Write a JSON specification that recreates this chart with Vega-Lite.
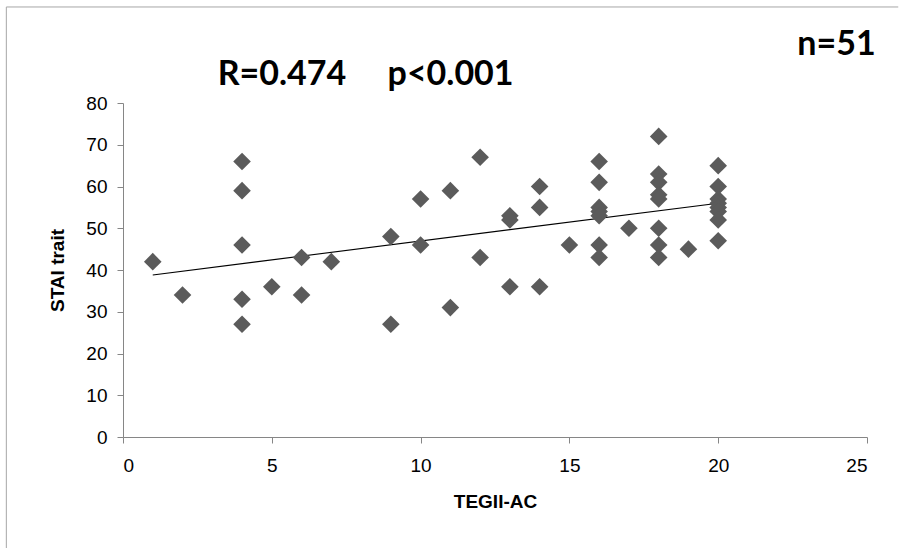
{
  "$schema": "https://vega.github.io/schema/vega-lite/v6.json",
  "width": 744,
  "height": 334,
  "autosize": {"type": "none"},
  "padding": {"left": 123, "top": 103, "right": 32, "bottom": 111},
  "background": "white",
  "config": {"view": {"stroke": null}, "font": "Liberation Sans"},
  "datasets": {
    "points": [
      {"TEGII_AC": 1, "STAI": 42},
      {"TEGII_AC": 2, "STAI": 34},
      {"TEGII_AC": 4, "STAI": 66},
      {"TEGII_AC": 4, "STAI": 59},
      {"TEGII_AC": 4, "STAI": 46},
      {"TEGII_AC": 4, "STAI": 33},
      {"TEGII_AC": 4, "STAI": 27},
      {"TEGII_AC": 5, "STAI": 36},
      {"TEGII_AC": 6, "STAI": 43},
      {"TEGII_AC": 6, "STAI": 34},
      {"TEGII_AC": 7, "STAI": 42},
      {"TEGII_AC": 9, "STAI": 48},
      {"TEGII_AC": 9, "STAI": 27},
      {"TEGII_AC": 10, "STAI": 57},
      {"TEGII_AC": 10, "STAI": 46},
      {"TEGII_AC": 11, "STAI": 59},
      {"TEGII_AC": 11, "STAI": 31},
      {"TEGII_AC": 12, "STAI": 67},
      {"TEGII_AC": 12, "STAI": 43},
      {"TEGII_AC": 13, "STAI": 53},
      {"TEGII_AC": 13, "STAI": 52},
      {"TEGII_AC": 13, "STAI": 36},
      {"TEGII_AC": 14, "STAI": 60},
      {"TEGII_AC": 14, "STAI": 55},
      {"TEGII_AC": 14, "STAI": 36},
      {"TEGII_AC": 15, "STAI": 46},
      {"TEGII_AC": 16, "STAI": 66},
      {"TEGII_AC": 16, "STAI": 61},
      {"TEGII_AC": 16, "STAI": 55},
      {"TEGII_AC": 16, "STAI": 54},
      {"TEGII_AC": 16, "STAI": 53},
      {"TEGII_AC": 16, "STAI": 46},
      {"TEGII_AC": 16, "STAI": 43},
      {"TEGII_AC": 17, "STAI": 50},
      {"TEGII_AC": 18, "STAI": 72},
      {"TEGII_AC": 18, "STAI": 63},
      {"TEGII_AC": 18, "STAI": 61},
      {"TEGII_AC": 18, "STAI": 58},
      {"TEGII_AC": 18, "STAI": 57},
      {"TEGII_AC": 18, "STAI": 50},
      {"TEGII_AC": 18, "STAI": 46},
      {"TEGII_AC": 18, "STAI": 43},
      {"TEGII_AC": 19, "STAI": 45},
      {"TEGII_AC": 20, "STAI": 65},
      {"TEGII_AC": 20, "STAI": 60},
      {"TEGII_AC": 20, "STAI": 57},
      {"TEGII_AC": 20, "STAI": 56},
      {"TEGII_AC": 20, "STAI": 55},
      {"TEGII_AC": 20, "STAI": 54},
      {"TEGII_AC": 20, "STAI": 52},
      {"TEGII_AC": 20, "STAI": 47}
    ],
    "trend": [
      {"TEGII_AC": 1, "STAI": 38.8},
      {"TEGII_AC": 20, "STAI": 56.0}
    ]
  },
  "layer": [
    {
      "data": {"values": [{"frame": "top"}]},
      "mark": {"type": "rule", "stroke": "#a6a6a6", "strokeWidth": 1, "clip": false},
      "encoding": {
        "x": {"datum": -3.92, "type": "quantitative"},
        "x2": {"datum": 26.05},
        "y": {"datum": 103.0, "type": "quantitative"}
      }
    },
    {
      "data": {"values": [{"frame": "left"}]},
      "mark": {"type": "rule", "stroke": "#a6a6a6", "strokeWidth": 1, "clip": false},
      "encoding": {
        "x": {"datum": -3.92, "type": "quantitative"},
        "y": {"datum": 103.0, "type": "quantitative"},
        "y2": {"datum": -26.6}
      }
    },
    {
      "data": {"name": "trend"},
      "mark": {"type": "line", "color": "black", "strokeWidth": 1.1},
      "encoding": {
        "x": {"field": "TEGII_AC", "type": "quantitative"},
        "y": {"field": "STAI", "type": "quantitative"}
      }
    },
    {
      "data": {"name": "points"},
      "mark": {"type": "point", "shape": "diamond", "filled": true, "size": 310, "color": "#5b5b5b", "opacity": 1},
      "encoding": {
        "x": {
          "field": "TEGII_AC", "type": "quantitative",
          "scale": {"domain": [0, 25], "nice": false, "zero": false},
          "axis": {
            "title": "TEGII-AC", "values": [0, 5, 10, 15, 20, 25], "grid": false,
            "domainColor": "#868686", "tickColor": "#868686", "tickSize": 6,
            "labelFontSize": 19, "labelColor": "black", "labelPadding": 13, "labelFont": "Liberation Sans",
            "titleFontSize": 19, "titleFont": "Liberation Sans", "titleFontWeight": "bold", "titleColor": "black", "titlePadding": 17
          }
        },
        "y": {
          "field": "STAI", "type": "quantitative",
          "scale": {"domain": [0, 80], "nice": false, "zero": false},
          "axis": {
            "title": "STAI trait", "values": [0, 10, 20, 30, 40, 50, 60, 70, 80], "grid": false,
            "domainColor": "#868686", "tickColor": "#868686", "tickSize": 6,
            "labelFontSize": 19, "labelColor": "black", "labelPadding": 10, "labelFont": "Liberation Sans",
            "titleFontSize": 19, "titleFont": "Liberation Sans", "titleFontWeight": "bold", "titleColor": "black", "titlePadding": 18
          }
        }
      }
    },
    {
      "data": {"values": [{"label": "R=0.474", "px": 3.18, "py": 84.4}, {"label": "p<0.001", "px": 8.89, "py": 84.4}]},
      "mark": {"type": "text", "font": "Lato", "fontWeight": "bold", "fontSize": 34, "align": "left", "baseline": "alphabetic", "color": "black", "clip": false},
      "encoding": {
        "x": {"field": "px", "type": "quantitative"},
        "y": {"field": "py", "type": "quantitative"},
        "text": {"field": "label"}
      }
    },
    {
      "data": {"values": [{"label": "n=51", "px": 25.29, "py": 91.6}]},
      "mark": {"type": "text", "font": "Lato", "fontWeight": "bold", "fontSize": 34, "align": "right", "baseline": "alphabetic", "color": "black", "clip": false},
      "encoding": {
        "x": {"field": "px", "type": "quantitative"},
        "y": {"field": "py", "type": "quantitative"},
        "text": {"field": "label"}
      }
    }
  ]
}
